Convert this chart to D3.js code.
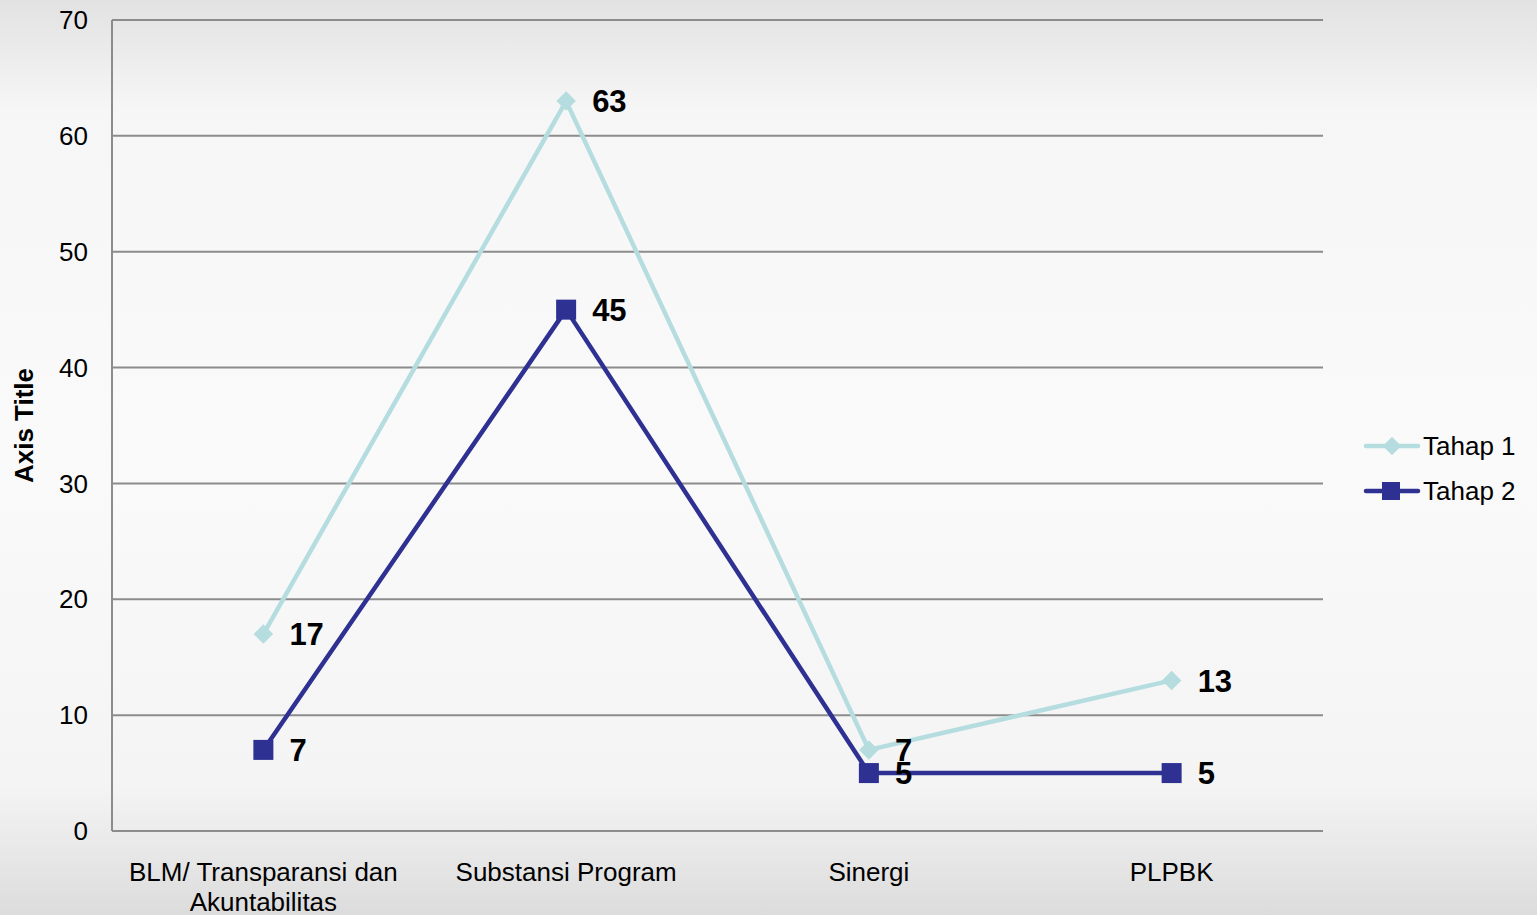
<!DOCTYPE html>
<html><head><meta charset="utf-8">
<script src="https://cdn.jsdelivr.net/npm/d3@7"></script>
<style>html,body{margin:0;padding:0;overflow:hidden;}svg{display:block;font-family:"Liberation Sans",Arial,sans-serif;}</style>
</head><body>
<script>
const categories = [["BLM/ Transparansi dan","Akuntabilitas"],["Substansi Program"],["Sinergi"],["PLPBK"]];
const seriesNames = ["Tahap 1","Tahap 2"];
const tahap1 = [17,63,7,13];
const tahap2 = [7,45,5,5];
const yTicks = [0,10,20,30,40,50,60,70];
const colors = ["#b5dde0","#2e3192"];

(function(){
const W=1537,H=915;
const svg=d3.select("body").append("svg").attr("width",W).attr("height",H);
const defs=svg.append("defs");
const g=defs.append("linearGradient").attr("id","bg").attr("x1",0).attr("y1",0).attr("x2",0).attr("y2",1);
[[0,"#e2e2e2"],[0.12,"#f6f6f6"],[0.5,"#fafafa"],[0.86,"#f4f4f4"],[1,"#dcdcdc"]].forEach(([o,c])=>g.append("stop").attr("offset",o).attr("stop-color",c));
svg.append("rect").attr("width",W).attr("height",H).attr("fill","url(#bg)");

const pL=112,pR=1323,pT=20,pB=831;
const x=d3.scaleBand().domain(d3.range(categories.length)).range([pL,pR]);
const y=d3.scaleLinear().domain([0,70]).range([pB,pT]);
const cx=i=>x(i)+x.bandwidth()/2;

svg.append("g").selectAll("line").data(yTicks).join("line")
 .attr("x1",pL).attr("x2",pR).attr("y1",d=>y(d)).attr("y2",d=>y(d))
 .attr("stroke","#8c8c8c").attr("stroke-width",2);
svg.append("line").attr("x1",pL).attr("x2",pL).attr("y1",pT).attr("y2",pB).attr("stroke","#8c8c8c").attr("stroke-width",2);

svg.append("g").selectAll("text").data(yTicks).join("text")
 .attr("x",88).attr("y",d=>y(d)).attr("dy","0.35em").attr("text-anchor","end")
 .attr("font-size",26).attr("fill","#000").text(d=>d);

svg.append("text").attr("transform",`translate(33,${(pT+pB)/2}) rotate(-90)`)
 .attr("text-anchor","middle").attr("font-size",26).attr("font-weight","bold").text("Axis Title");

const xl=svg.append("g").selectAll("text").data(categories).join("text")
 .attr("x",(d,i)=>cx(i)).attr("y",881).attr("text-anchor","middle").attr("font-size",26).attr("fill","#000");
xl.selectAll("tspan").data(d=>d).join("tspan").attr("x",function(){return this.parentNode.getAttribute("x");})
 .attr("dy",(d,i)=>i===0?0:30).text(d=>d);

const line=d3.line().x((d,i)=>cx(i)).y(d=>y(d));
const data=[tahap1,tahap2];

data.forEach((s,k)=>{
 svg.append("path").datum(s).attr("d",line).attr("fill","none").attr("stroke",colors[k]).attr("stroke-width",4.5).attr("stroke-linejoin","round");
});
svg.append("g").selectAll("path").data(tahap1).join("path")
 .attr("d",d3.symbol(d3.symbolSquare,190)()).attr("transform",(d,i)=>`translate(${cx(i)},${y(d)}) rotate(45)`)
 .attr("fill",colors[0]);
svg.append("g").selectAll("rect").data(tahap2).join("rect")
 .attr("x",(d,i)=>cx(i)-10).attr("y",d=>y(d)-10).attr("width",20).attr("height",20).attr("fill",colors[1]);

data.forEach((s,k)=>{
 svg.append("g").selectAll("text").data(s).join("text")
  .attr("x",(d,i)=>cx(i)+26).attr("y",d=>y(d)).attr("dy","0.36em")
  .attr("font-size",31).attr("font-weight","bold").attr("fill","#000").text(d=>d);
});

const lg=svg.append("g");
seriesNames.forEach((n,k)=>{
 const ly=446+k*45;
 lg.append("line").attr("x1",1366).attr("x2",1418).attr("y1",ly).attr("y2",ly).attr("stroke",colors[k]).attr("stroke-width",4.5).attr("stroke-linecap","round");
 if(k===0){
  lg.append("path").attr("d",d3.symbol(d3.symbolSquare,170)()).attr("transform",`translate(1392,${ly}) rotate(45)`).attr("fill",colors[0]);
 } else {
  lg.append("rect").attr("x",1382).attr("y",ly-9).attr("width",18).attr("height",18).attr("fill",colors[1]);
 }
 lg.append("text").attr("x",1423).attr("y",ly).attr("dy","0.35em").attr("font-size",26).attr("fill","#000").text(n);
});
})();
</script>
</body></html>
